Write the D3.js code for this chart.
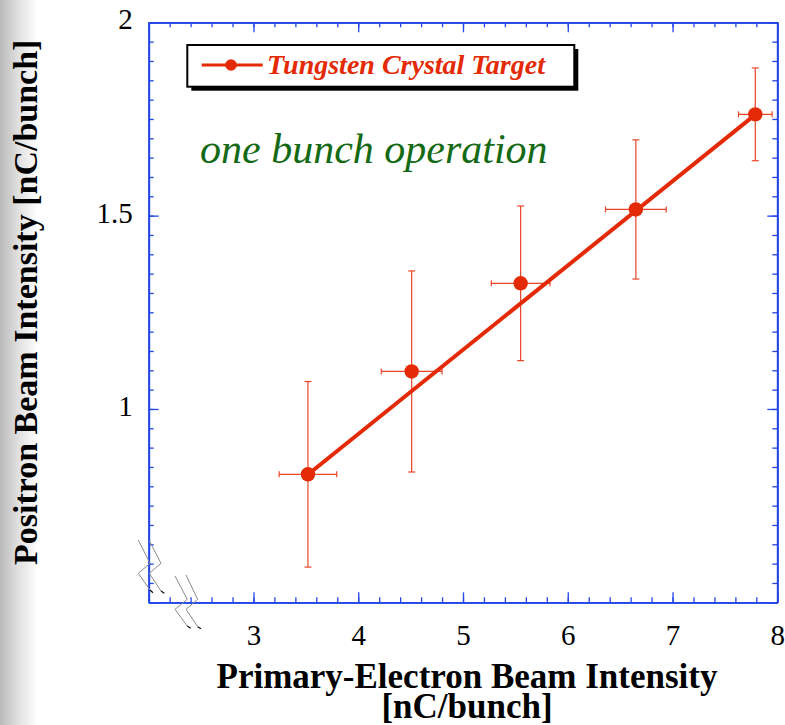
<!DOCTYPE html>
<html>
<head>
<meta charset="utf-8">
<script src="https://cdn.jsdelivr.net/npm/d3@7"></script>
<style>
  html, body { margin: 0; padding: 0; background: #fff; }
  svg { display: block; }
</style>
</head>
<body>
<svg id="chart" width="785" height="725"></svg>
<script>
// Primary-electron intensity (nC/bunch) and positron yield (nC/bunch)
const electronIntensity = [3.52, 4.51, 5.55, 6.65, 7.79];
const positronIntensity = [0.831, 1.097, 1.325, 1.516, 1.762];
const electronError = [0.275, 0.29, 0.28, 0.29, 0.16];
const positronError = [0.24, 0.26, 0.20, 0.18, 0.12];

// Straight-line fit through the measurements
const fitIntercept = 0.063;
const fitSlope = 0.218;

const xTickValues = [3, 4, 5, 6, 7, 8];
const yTickValues = [1, 1.5, 2];
const xDomain = [2, 8];
const yDomain = [0.5, 2];

const seriesLabel = "Tungsten Crystal Target";
const noteText = "one bunch operation";
const xTitleLines = ["Primary-Electron Beam Intensity", "[nC/bunch]"];
const yTitle = "Positron Beam Intensity [nC/bunch]";

const W = 785, H = 725;
const margin = { top: 22.3, right: 7.7, bottom: 122.7, left: 148.7 };
const axisColor = "#2446e6";
const red = "#e42a05";
const errColor = "#ea4529";
const serif = "'Liberation Serif', 'Times New Roman', Times, serif";

const svg = d3.select("#chart");

// soft grey shading along the left edge of the page
const defs = svg.append("defs");
const grad = defs.append("linearGradient").attr("id", "edgeShade")
  .attr("x1", 0).attr("x2", 1).attr("y1", 0).attr("y2", 0);
grad.append("stop").attr("offset", 0).attr("stop-color", "#b9b9b9");
grad.append("stop").attr("offset", 0.45).attr("stop-color", "#dedede");
grad.append("stop").attr("offset", 1).attr("stop-color", "#ffffff");
svg.append("rect").attr("x", 0).attr("y", 0).attr("width", 38).attr("height", H)
  .attr("fill", "url(#edgeShade)");

const x = d3.scaleLinear().domain(xDomain).range([margin.left, W - margin.right]);
const y = d3.scaleLinear().domain(yDomain).range([H - margin.bottom, margin.top]);

const x0 = x.range()[0], x1 = x.range()[1];
const y0 = y.range()[0], y1 = y.range()[1];

const xMinor = d3.range(xDomain[0], xDomain[1] + 1e-9, 0.2);
const yMinor = d3.range(yDomain[0], yDomain[1] + 1e-9, 0.05);
const xMajor = d3.range(xDomain[0], xDomain[1] + 1e-9, 1);
const yMajor = d3.range(yDomain[0], yDomain[1] + 1e-9, 0.5);

function styleAxis(g) {
  g.selectAll("path, line").attr("stroke", axisColor);
  g.select(".domain").attr("stroke-width", 1.8);
  g.selectAll(".tick line").attr("stroke-width", 1.3);
}

// minor ticks, inward on all four sides
svg.append("g").attr("transform", `translate(0,${y0})`)
  .call(d3.axisBottom(x).tickValues(xMinor).tickSizeInner(-5).tickSizeOuter(0).tickFormat(""))
  .call(styleAxis);
svg.append("g").attr("transform", `translate(0,${y1})`)
  .call(d3.axisTop(x).tickValues(xMinor).tickSizeInner(-5).tickSizeOuter(0).tickFormat(""))
  .call(styleAxis);
svg.append("g").attr("transform", `translate(${x0},0)`)
  .call(d3.axisLeft(y).tickValues(yMinor).tickSizeInner(-5).tickSizeOuter(0).tickFormat(""))
  .call(styleAxis);
svg.append("g").attr("transform", `translate(${x1},0)`)
  .call(d3.axisRight(y).tickValues(yMinor).tickSizeInner(-5).tickSizeOuter(0).tickFormat(""))
  .call(styleAxis);

// major ticks
svg.append("g").attr("transform", `translate(0,${y1})`)
  .call(d3.axisTop(x).tickValues(xMajor).tickSizeInner(-10).tickSizeOuter(0).tickFormat(""))
  .call(styleAxis);
svg.append("g").attr("transform", `translate(${x1},0)`)
  .call(d3.axisRight(y).tickValues(yMajor).tickSizeInner(-10).tickSizeOuter(0).tickFormat(""))
  .call(styleAxis);

const xAxisG = svg.append("g").attr("transform", `translate(0,${y0})`)
  .call(d3.axisBottom(x).tickValues(xMajor).tickSizeInner(-10).tickSizeOuter(0)
    .tickPadding(22).tickFormat(d => xTickValues.includes(d) ? d3.format("")(d) : ""))
  .call(styleAxis);
xAxisG.selectAll("text").attr("font-family", serif).attr("font-size", 29).attr("fill", "#000");

const yAxisG = svg.append("g").attr("transform", `translate(${x0},0)`)
  .call(d3.axisLeft(y).tickValues(yMajor).tickSizeInner(-10).tickSizeOuter(0)
    .tickPadding(16).tickFormat(d => yTickValues.includes(d) ? d3.format("")(d) : ""))
  .call(styleAxis);
yAxisG.selectAll("text").attr("font-family", serif).attr("font-size", 29)
  .attr("fill", "#000").attr("dy", "0.22em");

// axis-break marks near the origin, offsets from the corner
const breakMarks = [
  [[-10.4, -62.3], [1.3, -39], [-10.4, -29], [1.3, -12.3], [4.3, -9.6]],
  [[0.6, -61.6], [12.3, -39], [0.6, -29], [12.3, -11.3], [15.6, -9]],
  [[26.3, -26.3], [38.6, -3], [26.3, 7], [38.6, 23.7], [42, 26]],
  [[37.3, -27.3], [49, -3], [37.3, 7], [49, 24.4], [52.3, 26.4]]
];
const brk = svg.append("g").attr("transform", `translate(${x0},${y0})`);
breakMarks.forEach(pts => {
  brk.append("path").attr("d", d3.line()(pts.slice(0, 4)))
    .attr("fill", "none").attr("stroke", "#8a8a8a").attr("stroke-width", 1);
  brk.append("path").attr("d", d3.line()(pts.slice(3)))
    .attr("fill", "none").attr("stroke", "#111").attr("stroke-width", 1.3);
});

// data
const data = electronIntensity.map((v, i) => ({
  x: v, y: positronIntensity[i], ex: electronError[i], ey: positronError[i]
}));

const errG = svg.append("g").attr("stroke", errColor).attr("stroke-width", 1.2).attr("fill", "none");
data.forEach(d => {
  const cx = x(d.x), cy = y(d.y);
  const top = y(d.y + d.ey), bot = y(d.y - d.ey);
  const lft = x(d.x - d.ex), rgt = x(d.x + d.ex);
  errG.append("line").attr("x1", cx).attr("x2", cx).attr("y1", top).attr("y2", bot);
  errG.append("line").attr("x1", cx - 3.5).attr("x2", cx + 3.5).attr("y1", top).attr("y2", top);
  errG.append("line").attr("x1", cx - 3.5).attr("x2", cx + 3.5).attr("y1", bot).attr("y2", bot);
  errG.append("line").attr("x1", lft).attr("x2", rgt).attr("y1", cy).attr("y2", cy);
  errG.append("line").attr("x1", lft).attr("x2", lft).attr("y1", cy - 3).attr("y2", cy + 3);
  errG.append("line").attr("x1", rgt).attr("x2", rgt).attr("y1", cy - 3).attr("y2", cy + 3);
});

// fitted line across the measured range
const fitX = d3.extent(electronIntensity);
svg.append("path")
  .datum(fitX.map(v => [v, fitIntercept + fitSlope * v]))
  .attr("d", d3.line().x(d => x(d[0])).y(d => y(d[1])))
  .attr("stroke", red).attr("stroke-width", 4).attr("fill", "none");

svg.append("g").selectAll("circle").data(data).join("circle")
  .attr("cx", d => x(d.x)).attr("cy", d => y(d.y)).attr("r", 7.2)
  .attr("fill", red);

// legend box with drop shadow
const lg = svg.append("g");
lg.append("rect").attr("x", 191.3).attr("y", 49).attr("width", 387).attr("height", 41.7).attr("fill", "#000");
lg.append("rect").attr("x", 187.3).attr("y", 45).attr("width", 387).attr("height", 41.7)
  .attr("fill", "#fff").attr("stroke", "#000").attr("stroke-width", 2);
lg.append("line").attr("x1", 201.7).attr("x2", 262.7).attr("y1", 65).attr("y2", 65)
  .attr("stroke", red).attr("stroke-width", 3);
lg.append("circle").attr("cx", 231).attr("cy", 65).attr("r", 5.8).attr("fill", red);
lg.append("text").attr("x", 267).attr("y", 74)
  .attr("font-family", serif).attr("font-size", 28).attr("font-weight", "bold")
  .attr("font-style", "italic").attr("fill", red).text(seriesLabel);

// annotation
svg.append("text").attr("x", 200).attr("y", 163)
  .attr("font-family", serif).attr("font-size", 42).attr("font-style", "italic")
  .attr("fill", "#146a14").text(noteText);

// axis titles
svg.append("g").selectAll("text").data(xTitleLines).join("text")
  .attr("x", (x0 + x1) / 2 + 4).attr("y", (d, i) => 688 + i * 30)
  .attr("text-anchor", "middle").attr("font-family", serif).attr("font-size", 35)
  .attr("font-weight", "bold").attr("fill", "#000").text(d => d);

svg.append("text")
  .attr("transform", `translate(37,${(y0 + y1) / 2 - 10}) rotate(-90)`)
  .attr("text-anchor", "middle").attr("font-family", serif).attr("font-size", 34)
  .attr("font-weight", "bold").attr("fill", "#000").text(yTitle);
</script>
</body>
</html>
